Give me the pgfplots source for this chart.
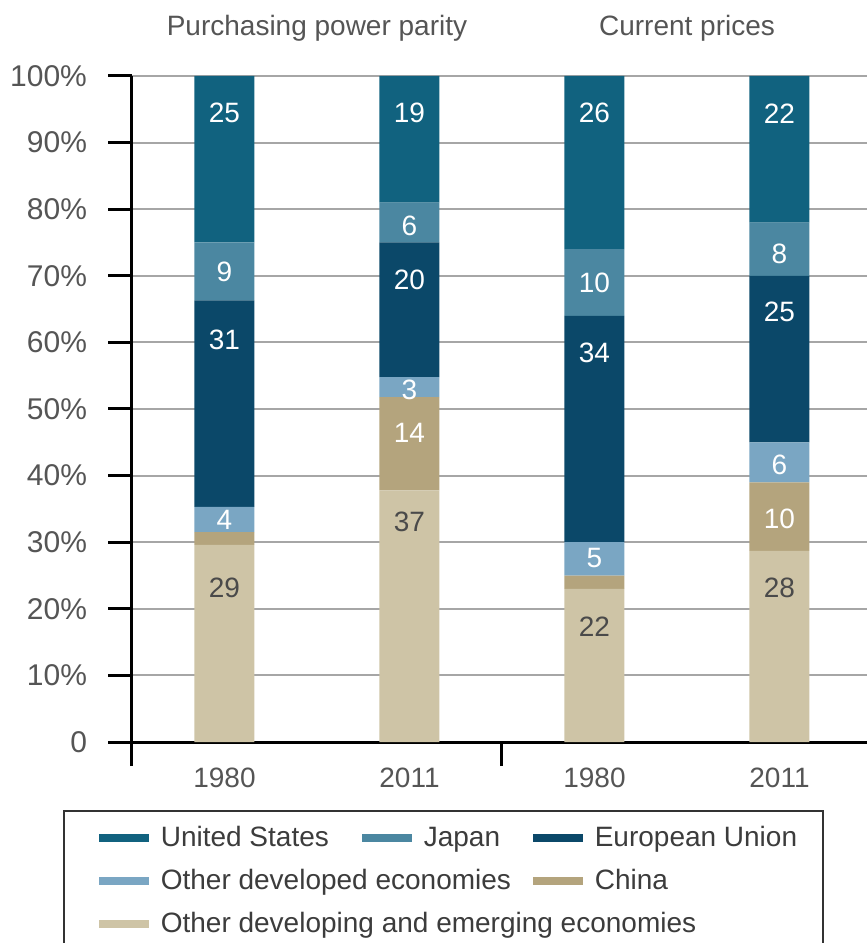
\documentclass[border=0pt]{standalone}
\usepackage{pgfplots}
\pgfplotsset{compat=1.18}
\usepackage{pgfplotstable}
\usepackage{fontspec}
\setmainfont{Liberation Sans}
\definecolor{cUS}{HTML}{11627F}
\definecolor{cJP}{HTML}{4B87A1}
\definecolor{cEU}{HTML}{0B4869}
\definecolor{cOD}{HTML}{7AA6C3}
\definecolor{cCN}{HTML}{B4A47D}
\definecolor{cOE}{HTML}{CEC4A6}
\definecolor{tickgray}{HTML}{555555}
\definecolor{legtext}{HTML}{3C3C3C}
\definecolor{darklab}{HTML}{4A4A4A}
\newcommand{\bigf}{\fontsize{14}{16.8}\selectfont}
\newcommand{\tickf}{\fontsize{15}{18}\selectfont}

% shares in percent, bottom segment first
\pgfplotstableread{
x odev china odevd eu japan us
0 29.6 1.9 3.8 31.0 8.7 25.0
1 37.8 14.0 3.0 20.2 6.0 19.0
2 23.0 2.0 5.0 34.0 10.0 26.0
3 28.7 10.3 6.0 25.0 8.0 22.0
}\shares

\pgfplotstableread{
x y lab
0 94.4 25
0 70.6 9
0 60.4 31
0 33.3 4
1 94.4 19
1 77.5 6
1 69.4 20
1 52.9 3
1 46.4 14
2 94.4 26
2 69.0 10
2 58.4 34
2 27.6 5
3 94.4 22
3 73.3 8
3 64.6 25
3 41.6 6
3 33.5 10
}\whitelabs

\pgfplotstableread{
x y lab
0 23.1 29
1 33.0 37
2 17.3 22
3 23.1 28
}\darklabs

\begin{document}
\begin{tikzpicture}
\begin{axis}[
  width=370pt, height=333pt, scale only axis,
  xmin=-0.5, xmax=3.5, ymin=0, ymax=100,
  ybar stacked, bar width=30pt,
  axis x line=bottom, axis y line=left,
  axis line style={-, line width=1.5pt, black},
  tick align=outside, major tick length=12pt,
  tick style={black, line width=1.5pt},
  xtick={-0.5,1.5,3.5}, xticklabels={,,},
  extra x ticks={0,1,2,3},
  extra x tick labels={1980,2011,1980,2011},
  extra x tick style={major tick length=0pt, xticklabel style={yshift=-9.5pt}},
  ytick={0,10,...,100},
  yticklabels={0,10\%,20\%,30\%,40\%,50\%,60\%,70\%,80\%,90\%,100\%},
  yticklabel style={xshift=-7pt, font=\tickf},
  ymajorgrids, major grid style={black!35, line width=1pt},
  ticklabel style={font=\bigf, text=tickgray},
  clip=false,
]
\addplot[fill=cOE, draw=none, forget plot] table[x=x, y=odev]{\shares};
\addplot[fill=cCN, draw=none, forget plot] table[x=x, y=china]{\shares};
\addplot[fill=cOD, draw=none, forget plot] table[x=x, y=odevd]{\shares};
\addplot[fill=cEU, draw=none, forget plot] table[x=x, y=eu]{\shares};
\addplot[fill=cJP, draw=none, forget plot] table[x=x, y=japan]{\shares};
\addplot[fill=cUS, draw=none, forget plot] table[x=x, y=us]{\shares};
\node[font=\bigf, text=tickgray] at (axis cs:0.5,107.2) {Purchasing power parity};
\node[font=\bigf, text=tickgray] at (axis cs:2.5,107.2) {Current prices};
\end{axis}
\begin{axis}[
  width=370pt, height=333pt, scale only axis,
  xmin=-0.5, xmax=3.5, ymin=0, ymax=100,
  hide axis, clip=false,
  legend columns=3,
  legend cell align=left,
  legend image code/.code={\fill[#1, draw=none] (0pt,-2.7pt) rectangle (25pt,1.3pt);},
  legend style={at={(axis cs:-0.5,0)}, anchor=north west,
    xshift=-34.5pt, yshift=-34pt,
    draw=black!80, line width=0.8pt,
    inner xsep=17.5pt, inner ysep=6.2pt,
    font=\bigf, text=legtext, row sep=8.2pt,
    nodes={inner sep=0pt},
    /tikz/every odd column/.append style={column sep=6pt},
    /tikz/every even column/.append style={column sep=0pt}},
]
\addplot[forget plot, draw=none, mark=none, point meta=explicit symbolic,
  nodes near coords, nodes near coords style={anchor=center, text=white, font=\bigf}]
  table[x=x, y=y, meta=lab]{\whitelabs};
\addplot[forget plot, draw=none, mark=none, point meta=explicit symbolic,
  nodes near coords, nodes near coords style={anchor=center, text=darklab, font=\bigf}]
  table[x=x, y=y, meta=lab]{\darklabs};
\addlegendimage{fill=cUS}
\addlegendentry{\makebox[100.5pt][l]{\strut United States}}
\addlegendimage{fill=cJP}
\addlegendentry{\makebox[54.5pt][l]{\strut Japan}}
\addlegendimage{fill=cEU}
\addlegendentry{\makebox[96.5pt][l]{\strut European Union}}
\addlegendimage{fill=cOD}
\addlegendentry{\makebox[100.5pt][l]{\strut Other developed economies}}
\addlegendimage{empty legend}
\addlegendentry{\makebox[54.5pt][l]{\strut}}
\addlegendimage{fill=cCN}
\addlegendentry{\makebox[96.5pt][l]{\strut China}}
\addlegendimage{fill=cOE}
\addlegendentry{\makebox[100.5pt][l]{\strut Other developing and emerging economies}}
\end{axis}
\pgfresetboundingbox
\path[use as bounding box] (-66pt,-100.5pt) rectangle (367.5pt,371pt);
\end{tikzpicture}
\end{document}
